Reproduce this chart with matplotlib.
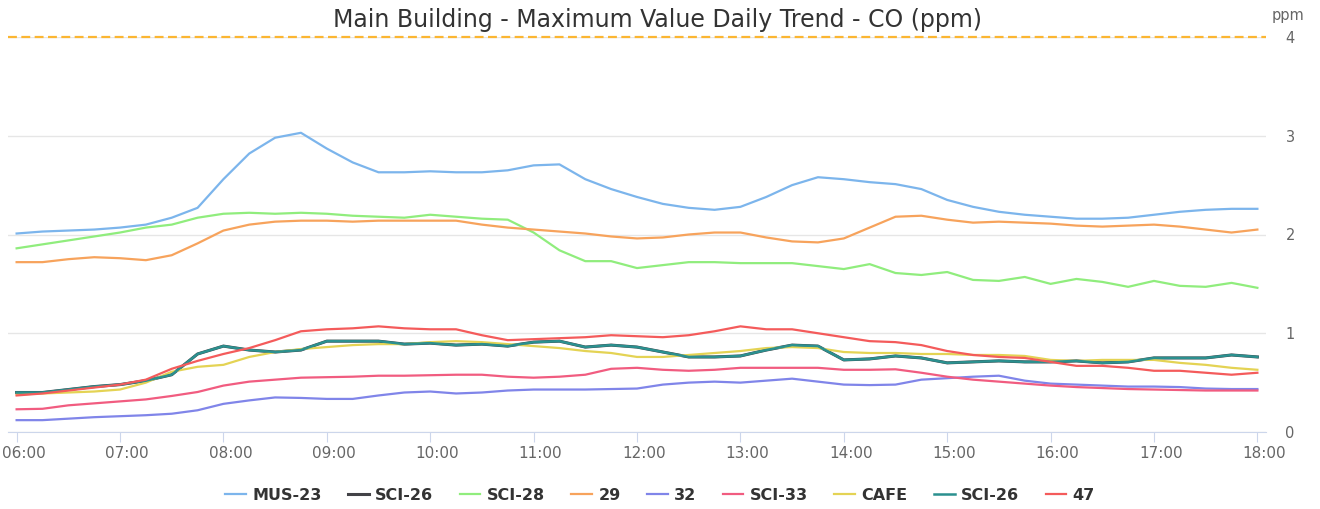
import pandas as pd
import matplotlib
matplotlib.use("Agg")
import matplotlib.pyplot as plt
import matplotlib.dates as mdates
from matplotlib.transforms import ScaledTranslation

# Data: max CO (ppm) every 15 minutes, 06:00 - 18:00
times = pd.date_range("2024-01-01 06:00", "2024-01-01 18:00", freq="15min")

mus_23 = [2.01, 2.03, 2.04, 2.05, 2.07, 2.10, 2.17, 2.27, 2.56, 2.82, 2.98, 3.03, 2.87, 2.73, 2.63, 2.63, 2.64,
          2.63, 2.63, 2.65, 2.70, 2.71, 2.56, 2.46, 2.38, 2.31, 2.27, 2.25, 2.28, 2.38, 2.50, 2.58, 2.56, 2.53,
          2.51, 2.46, 2.35, 2.28, 2.23, 2.20, 2.18, 2.16, 2.16, 2.17, 2.20, 2.23, 2.25, 2.26, 2.26]
sci_28 = [1.86, 1.90, 1.94, 1.98, 2.02, 2.07, 2.10, 2.17, 2.21, 2.22, 2.21, 2.22, 2.21, 2.19, 2.18, 2.17, 2.20,
          2.18, 2.16, 2.15, 2.02, 1.84, 1.73, 1.73, 1.66, 1.69, 1.72, 1.72, 1.71, 1.71, 1.71, 1.68, 1.65, 1.70,
          1.61, 1.59, 1.62, 1.54, 1.53, 1.57, 1.50, 1.55, 1.52, 1.47, 1.53, 1.48, 1.47, 1.51, 1.46]
s_29 = [1.72, 1.72, 1.75, 1.77, 1.76, 1.74, 1.79, 1.91, 2.04, 2.10, 2.13, 2.14, 2.14, 2.13, 2.14, 2.14, 2.14,
        2.14, 2.10, 2.07, 2.05, 2.03, 2.01, 1.98, 1.96, 1.97, 2.00, 2.02, 2.02, 1.97, 1.93, 1.92, 1.96, 2.07,
        2.18, 2.19, 2.15, 2.12, 2.13, 2.12, 2.11, 2.09, 2.08, 2.09, 2.10, 2.08, 2.05, 2.02, 2.05]
s_32 = [0.12, 0.12, 0.135, 0.15, 0.16, 0.17, 0.185, 0.22, 0.285, 0.32, 0.35, 0.345, 0.335, 0.335, 0.37, 0.40, 0.41,
        0.39, 0.40, 0.42, 0.43, 0.43, 0.43, 0.435, 0.44, 0.48, 0.50, 0.51, 0.50, 0.52, 0.54, 0.51, 0.48, 0.475,
        0.48, 0.53, 0.545, 0.56, 0.57, 0.52, 0.49, 0.48, 0.47, 0.46, 0.46, 0.455, 0.44, 0.435, 0.435]
sci_33 = [0.23, 0.235, 0.27, 0.29, 0.31, 0.33, 0.365, 0.405, 0.47, 0.51, 0.53, 0.55, 0.555, 0.56, 0.57, 0.57, 0.575,
          0.58, 0.58, 0.56, 0.55, 0.56, 0.58, 0.64, 0.65, 0.63, 0.62, 0.63, 0.65, 0.65, 0.65, 0.65, 0.63, 0.63,
          0.635, 0.60, 0.56, 0.53, 0.51, 0.49, 0.47, 0.455, 0.445, 0.435, 0.43, 0.425, 0.42, 0.42, 0.42]
cafe = [0.38, 0.39, 0.40, 0.41, 0.43, 0.50, 0.61, 0.66, 0.68, 0.76, 0.81, 0.84, 0.86, 0.88, 0.89, 0.89, 0.91,
        0.92, 0.91, 0.89, 0.87, 0.85, 0.82, 0.80, 0.76, 0.76, 0.78, 0.80, 0.82, 0.85, 0.86, 0.85, 0.81, 0.80,
        0.80, 0.79, 0.79, 0.78, 0.78, 0.77, 0.73, 0.72, 0.73, 0.73, 0.73, 0.70, 0.68, 0.65, 0.63]
sci_26 = [0.40, 0.40, 0.43, 0.46, 0.48, 0.52, 0.58, 0.79, 0.87, 0.83, 0.81, 0.83, 0.92, 0.92, 0.92, 0.89, 0.90,
          0.88, 0.89, 0.87, 0.91, 0.92, 0.86, 0.88, 0.86, 0.81, 0.76, 0.76, 0.77, 0.83, 0.88, 0.87, 0.73, 0.74,
          0.77, 0.75, 0.70, 0.71, 0.72, 0.71, 0.71, 0.72, 0.70, 0.71, 0.75, 0.75, 0.75, 0.78, 0.76]
s_47 = [0.37, 0.39, 0.42, 0.45, 0.48, 0.53, 0.64, 0.72, 0.79, 0.85, 0.93, 1.02, 1.04, 1.05, 1.07, 1.05, 1.04,
        1.04, 0.98, 0.93, 0.94, 0.95, 0.96, 0.98, 0.97, 0.96, 0.98, 1.02, 1.07, 1.04, 1.04, 1.00, 0.96, 0.92,
        0.91, 0.88, 0.82, 0.78, 0.76, 0.75, 0.71, 0.67, 0.67, 0.65, 0.62, 0.62, 0.60, 0.58, 0.60]

threshold = 4
y_ticks = [0, 1, 2, 3, 4]

series = [
    ("MUS-23", mus_23, "#7cb5ec", 1.6),
    ("SCI-26", sci_26, "#434348", 2.2),
    ("SCI-28", sci_28, "#90ed7d", 1.6),
    ("29", s_29, "#f7a35c", 1.6),
    ("32", s_32, "#8085e9", 1.6),
    ("SCI-33", sci_33, "#f15c80", 1.6),
    ("CAFE", cafe, "#e4d354", 1.6),
    ("SCI-26", sci_26, "#2b908f", 1.8),
    ("47", s_47, "#f45b5b", 1.6),
]

fig = plt.figure(figsize=(13.2, 5.09), dpi=100)
ax = fig.add_axes([8 / 1320, 1 - 432 / 509, 1258 / 1320, 395 / 509])

for name, vals, col, lw in series:
    ax.plot(times, vals, color=col, lw=lw, label=name, solid_joinstyle="round")

ax.axhline(threshold, color="#fbb632", lw=1.6, ls=(0, (4, 2)), zorder=3, clip_on=False)

ax.set_ylim(0, 4)
pad = pd.Timedelta(minutes=5)
ax.set_xlim(times[0] - pad, times[-1] + pad)

ax.set_yticks(y_ticks)
ax.yaxis.tick_right()
ax.tick_params(axis="y", length=0, pad=14, labelsize=10.5, labelcolor="#666666")
ax.grid(axis="y", color="#e6e6e6", lw=1)
ax.set_axisbelow(True)

ax.xaxis.set_major_locator(mdates.HourLocator())
ax.xaxis.set_major_formatter(mdates.DateFormatter("%H:%M"))
ax.tick_params(axis="x", length=7, color="#ccd6eb", labelsize=11, labelcolor="#666666", pad=3)
# labels sit a little right of their ticks, like the original
shift = ScaledTranslation(7 / 100, 0, fig.dpi_scale_trans)
for lab in ax.get_xticklabels():
    lab.set_transform(lab.get_transform() + shift)

for side in ["top", "left", "right"]:
    ax.spines[side].set_visible(False)
ax.spines["bottom"].set_color("#ccd6eb")

fig.text(0.498, 0.96, "Main Building - Maximum Value Daily Trend - CO (ppm)",
         ha="center", va="center", fontsize=17, color="#333333")
fig.text(0.976, 0.969, "ppm", ha="center", va="center", fontsize=10.5, color="#666666")

fig.legend(loc="center", bbox_to_anchor=(0.5, 0.027), ncol=9, frameon=False,
           handlelength=1.3, columnspacing=1.65, handletextpad=0.4,
           prop={"weight": "bold", "size": 11.5}, labelcolor="#333333")

fig.savefig("out.png", dpi=100)
